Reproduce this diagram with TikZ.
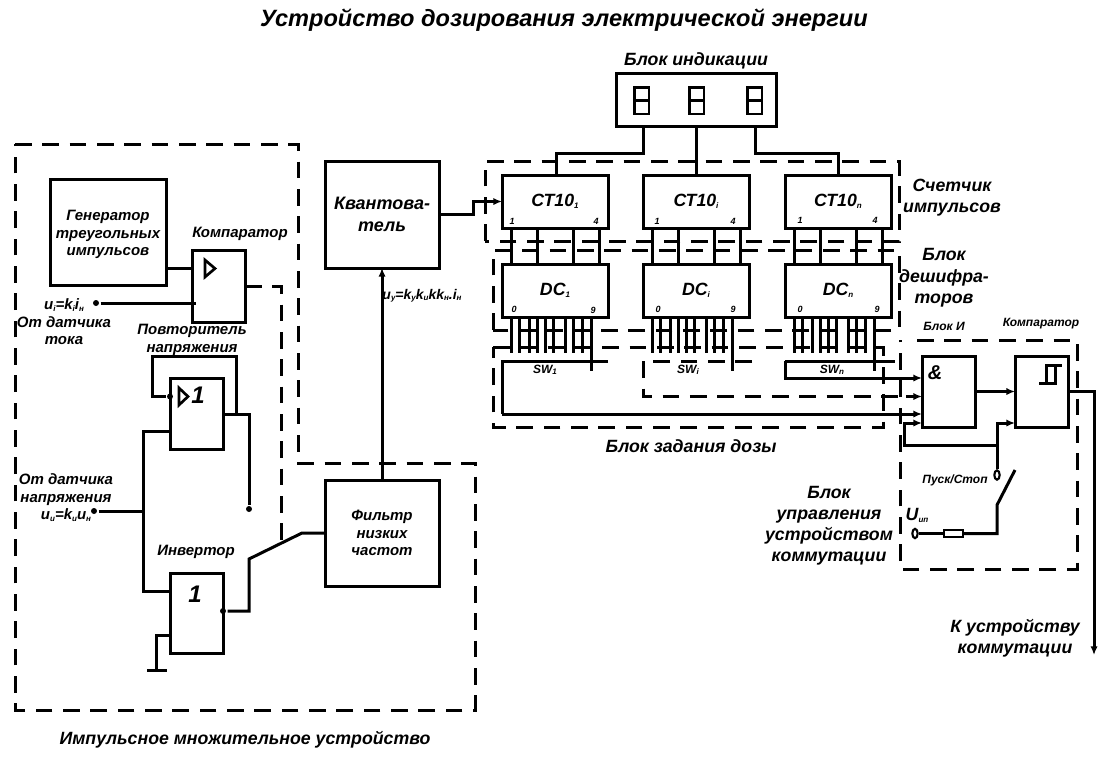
\documentclass[tikz,border=0pt]{standalone}
\usepackage{fontspec}
\setmainfont{Liberation Sans}
\usetikzlibrary{arrows.meta,calc,shapes.geometric}
\newcommand\ftit{\fontsize{17.7}{21}\selectfont\bfseries\itshape}
\newcommand\fbig{\fontsize{13.3}{15.8}\selectfont\bfseries\itshape}
\newcommand\fmid{\fontsize{11.25}{13.2}\selectfont\bfseries\itshape}
\newcommand\fsml{\fontsize{9}{10.5}\selectfont\bfseries\itshape}
\newcommand\fnum{\fontsize{6.75}{7}\selectfont\bfseries\itshape}
\newcommand\nizh[1]{\raisebox{-0.25ex}{\fontsize{6}{7}\selectfont #1}}
\tikzset{
  blk/.style 2 args={draw,inner sep=0pt,outer sep=0pt,align=center,minimum width=#1*0.75pt,minimum height=#2*0.75pt},
  lbl/.style={font=\fbig,align=center,inner sep=0pt,yshift=-1.3pt},
  lbm/.style={font=\fmid,align=center,inner sep=0pt,yshift=-1.3pt},
  lbs/.style={font=\fsml,align=center,inner sep=0pt,yshift=-0.7pt},
  num/.style={font=\fnum,inner sep=0pt},
  dsh/.style={dash pattern=on 12.5pt off 8pt},
  arr/.style={-{Latex[length=6.5pt,width=5.5pt]}},
  dot/.style={circle,fill=black,inner sep=0pt,minimum size=4.5pt},
  opn/.style={ellipse,draw,fill=white,line width=1.6pt,inner sep=0pt,minimum width=4pt,minimum height=7pt},
  dig/.style={draw,line width=2pt,inner sep=0pt,minimum width=11pt,minimum height=20pt},
}
\begin{document}
\begin{tikzpicture}[x=0.75pt,y=-0.75pt,line width=2.25pt]
  \useasboundingbox (0,0) rectangle (1117,779);
  \node[font=\ftit,inner sep=0pt] (title) at (564,20.5) {Устройство дозирования электрической энергии};
  % left part, analog blocks
  \node[blk={116}{106},font=\fmid] (gen) at (108,232) {\\[-1.5pt]Генератор\\треугольных\\импульсов};
  \node[blk={53}{72}] (comp) at (218.5,286) {};
  \node[blk={53}{71}] (rep) at (196.5,413.5) {};
  \node[blk={53}{80}] (inv) at (196.5,613) {};
  \node[blk={114}{107},font=\fontsize{13.5}{16}\selectfont\bfseries\itshape] (kvant) at (382,214.5) {Квантова-\\тель};
  \node[blk={114}{106},font=\fmid] (filt) at (382,533) {Фильтр\\низких\\частот};
  \draw[line width=2pt] (205,260) -- (205,277) -- (215,268.5) -- cycle;
  \draw[line width=2pt] (179,388) -- (179,405) -- (188,396.5) -- cycle;
  \node[font=\fontsize{18}{20}\selectfont\bfseries\itshape,inner sep=0pt] (rep1) at (198,395) {1};
  \node[font=\fontsize{18}{20}\selectfont\bfseries\itshape,inner sep=0pt] (inv1) at (195,594) {1};
  \node[lbm] (lcomp) at (240,232) {Компаратор};
  \node[lbm] (lui) at (64,303) {u\nizh{i}=k\nizh{i}i\nizh{н}};
  \node[lbm] (ltok) at (64,329) {От датчика\\тока};
  \node[lbm] (lrep) at (192,338) {Повторитель\\напряжения};
  \node[lbm] (lnapr) at (66,496) {От датчика\\напряжения\\u\nizh{u}=k\nizh{u}u\nizh{н}};
  \node[lbm] (linv) at (196,550) {Инвертор};
  \node[lbm,font=\fontsize{10.5}{12}\selectfont\bfseries\itshape] (luy) at (422,294) {u\nizh{у}=k\nizh{у}k\nizh{u}kk\nizh{н}.i\nizh{н}};
  \node[dot] (ti) at (96,303) {};
  \node[dot] (tu) at (94,511) {};
  \node[dot] (drep) at (170,396.5) {};
  \node[dot] (dinv) at (223,611) {};
  \node[dot] (dsw) at (249,509) {};
  \coordinate (kd) at (281,543);
  \coordinate (sw1) at (249,559);
  \coordinate (sw2) at (302,533);
  \coordinate (vbus) at (143,511);
  \coordinate (gnd) at (156,670);
  \draw (gen.east |- 0,268) -- (comp.west |- 0,268);
  \draw (ti) -- (196,303);
  \draw (tu) -- (vbus);
  \draw (rep.west |- 0,431) -- (143,431) -- (143,591) -- (inv.west |- 0,591);
  \draw (drep) -- (152,396.5) -- (152,356) -- (236,356) -- (236,414);
  \draw (rep.east |- 0,414) -- (249,414) -- (dsw);
  \draw (dinv) -- (249,611) -- (sw1) -- (sw2) -- (filt.west);
  \draw (inv.west |- 0,635) -- (156,635) -- (gnd);
  \draw (147,670) -- (167,670);
  \draw[arr] (filt.north) -- (kvant.south);
  \draw[dsh] (comp.east) -- (281,286) -- (kd);
  \draw[dsh] (15,144) -- (298,144) -- (298,463) -- (475,463) -- (475,710) -- (15,710) -- cycle;
  \node[lbl] (limp) at (245,738) {Импульсное множительное устройство};
  % indication block
  \node[lbl] (lind) at (696,59) {Блок индикации};
  \node[blk={160}{53}] (ind) at (696,99.5) {};
  \foreach \j/\x in {1/641.5,2/696.5,3/754.5}{
    \node[dig] (d\j) at (\x,100.5) {};
    \draw[line width=2pt] (d\j.west) -- (d\j.east);
  }
  % counters and decoders
  \foreach \j/\x/\t/\xs in {1/555/1/545,i/696/i/688,n/838/n/832}{
    \node[blk={106}{53},font=\fbig] (ct\j) at (\x,201.5) {СТ10\nizh{\t}};
    \node[blk={106}{53},font=\fbig] (dc\j) at (\x,290.5) {DC\nizh{\t}};
    \node[lbs] (sw\j) at (\xs,369) {SW\nizh{\t}};
    \foreach \d in {9,35.5,71.5,97}{
      \draw ($(ct\j.south west)+(\d,0)$) -- ($(dc\j.north west)+(\d,0)$);
    }
    \foreach \d in {9,17,27,35,43,51,63,71,80}{
      \draw ($(dc\j.south west)+(\d,0)$) -- ++(0,36);
    }
    \draw ($(dc\j.south west)+(89,0)$) -- ++(0,54);
  }
  \node[num] (n1a) at (512,221) {1};
  \node[num] (n1b) at (596,221) {4};
  \node[num] (n2a) at (657,221) {1};
  \node[num] (n2b) at (733,221) {4};
  \node[num] (n3a) at (800,220) {1};
  \node[num] (n3b) at (875,220) {4};
  \node[num] (n4a) at (514,309) {0};
  \node[num] (n4b) at (593,310) {9};
  \node[num] (n5a) at (658,309) {0};
  \node[num] (n5b) at (733,309) {9};
  \node[num] (n6a) at (800,309) {0};
  \node[num] (n6b) at (877,309) {9};
  \draw (ind.south -| 643,0) -- (643,153) -- (556,153) -- (ct1.north -| 556,0);
  \draw (ind.south) -- (cti.north);
  \draw (ind.south -| 755,0) -- (755,153) -- (838,153) -- (ctn.north);
  \draw[arr] (kvant.east) -- (473,214.5) -- (473,201.5) -- (ct1.west);
  % dashed frames
  \draw[dsh] (485,241) -- (485,161) -- (899,161) -- (899,241) -- cycle;
  \draw[dsh] (493,330) -- (493,250) -- (899,250) -- (899,330) -- cycle;
  \draw[dsh] (493,347) -- (883,347) -- (883,427) -- (493,427) -- cycle;
  \draw[dsh] (917,340) -- (1077,340) -- (1077,569) -- (900,569) -- (900,340);
  \node[lbl] (lcnt) at (952,196) {Счетчик\\импульсов};
  \node[lbl] (ldec) at (944,276) {Блок\\дешифра-\\торов};
  \node[lbl] (ldose) at (691,444) {Блок задания дозы};
  % dose switches
  \node[blk={53}{71}] (andb) at (948.5,391.5) {};
  \draw (608,361) -- (502,361) -- (502,414);
  \draw[arr] (502,414) -- (andb.west |- 0,414);
  \draw (785,361) -- (895,361);
  \draw[arr] (785,361) -- (785,378) -- (andb.west |- 0,378);
  \draw[dsh] (752,361) -- (643,361) -- (643,396.5) -- (906,396.5);
  \draw[arr] (906,396.5) -- (andb.west |- 0,396.5);
  % control block
  \node[blk={53}{71}] (cmpr) at (1041.5,391.5) {};
  \node[font=\fontsize{15}{17}\selectfont\bfseries\itshape,inner sep=0pt] (amp) at (935,373) {\&};
  \draw (1039,383) -- (1055,383) -- (1055,365.5) -- (1062,365.5);
  \draw (1046,383) -- (1046,365.5) -- (1062,365.5);
  \node[lbs] (lblki) at (944,325) {Блок И};
  \node[lbs] (lcmp) at (1041,323) {Компаратор};
  \node[lbs] (lpusk) at (955,479) {Пуск/Стоп};
  \node[lbl] (lupr) at (829,524) {Блок\\управления\\устройством\\коммутации};
  \node[lbl] (lun) at (917,514) {U\nizh{ип}};
  \node[lbl] (lout) at (1015,636) {К устройству\\коммутации};
  \node[opn] (kpusk) at (997,475) {};
  \node[opn] (kun) at (915,533.5) {};
  \node[blk={19}{7},line width=1.8pt] (res) at (953.5,533.5) {};
  \coordinate (jn) at (997,445);
  \coordinate (ot) at (1094,655);
  \draw[arr] (andb.east) -- (cmpr.west);
  \draw[arr] (jn) -- (904,445) -- (904,423) -- (andb.west |- 0,423);
  \draw[arr] (kpusk) -- (997,423) -- (cmpr.west |- 0,423);
  \draw[arr] (cmpr.east) -- (1094,391.5) -- (ot);
  \draw (kun) -- (res);
  \draw (res) -- (997,533.5) -- (997,505) -- (1015,470);
\end{tikzpicture}
\end{document}
